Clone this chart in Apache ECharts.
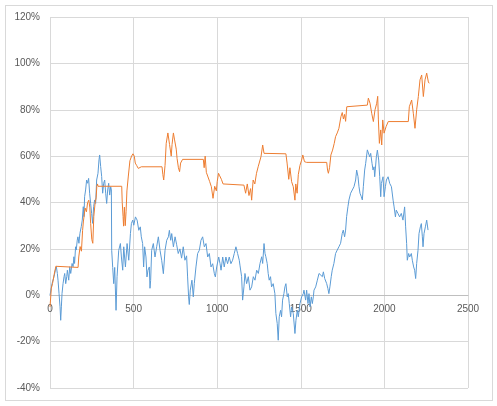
<!DOCTYPE html>
<html>
<head>
<meta charset="utf-8">
<script src="https://cdn.jsdelivr.net/npm/echarts@6/dist/echarts.min.js"></script>
<style>
  html, body { margin: 0; padding: 0; background: #fff; }
  #frame { position: absolute; left: 5px; top: 5px; width: 486px; height: 394px; border: 1px solid #d9d9d9; }
  #chart { position: absolute; left: 0; top: 0; width: 497px; height: 406px; }
</style>
</head>
<body>
<div id="frame"></div>
<div id="chart"></div>
<script>
// x axis ticks and y axis ticks (percent)
const xTicks = [0, 500, 1000, 1500, 2000, 2500];
const yTicks = [-40, -20, 0, 20, 40, 60, 80, 100, 120];

// blue series, [step, percent]
const blueData = [
  [0,0],[4,0],[12,5],[24,8],[32,10.8],[38,12.3],[44,9.4],[48,6.5],[54,0.8],[60,-5],[64,-10.8],[68,-5],[72,0.8],[78,5],[84,8],[88,9.4],[94,5],[100,8],[104,10.8],[112,6.5],[118,12.3],[124,9.4],[132,13.7],[138,12.3],[143,16.6],[147,13.7],[153,20.9],[157,19.5],[163,23.8],[167,25.2],[173,22.4],[179,26.7],[187,29.6],[193,32.4],[199,38.2],[203,33.9],[207,42.5],[213,45.4],[219,49.7],[225,48.3],[231,50.4],[237,44],[243,39.6],[249,35.3],[255,31],[261,38.2],[267,41.1],[273,39.6],[279,49.7],[287,52.6],[293,58.4],[297,60.5],[303,55.5],[309,51.2],[315,44],[321,48.3],[327,49.7],[333,44],[339,39.6],[345,45.4],[351,48.3],[357,43.2],[363,46.8],[367,45.4],
  [369,19.4],[375,12],[381,5],[387,12],[395,-6.5],[401,8],[411,19.4],[421,22.3],[427,16.5],[435,10.8],[441,20.9],[451,12.2],[461,22.3],[471,15.1],[481,26.6],[487,31],[495,32.4],[501,30.2],[511,33.8],[521,32.4],[531,28],[540,29.5],[546,25.2],[554,22.3],[560,12.2],[566,20.9],[574,16.5],[580,7.9],[586,10.8],[594,12.2],[598,3],[602,6.4],[608,19.4],[618,22.3],[628,16.5],[638,20.9],[648,25.2],[658,19.4],[668,15.1],[678,9.3],[688,19.4],[698,23.7],[708,25.2],[714,28],[722,23.7],[728,26.6],[738,20.9],[748,25.2],[757,22],[767,18],[777,20],[787,16],[797,20.9],[807,15.1],[817,17],[823,7.9],[829,-0.7],[833,-4],[839,2.2],[849,6.5],[857,-0.7],[863,5],[873,12.2],[883,18],[893,19.4],[903,23.7],[913,25.2],[923,20.9],[933,22.3],[943,16.5],[953,18],[963,12.2],[973,13.6],[983,9.3],[989,7.9],[997,12.2],
  [1009,16.5],[1017,13.6],[1023,10.8],[1033,16.5],[1042,12.2],[1052,16.5],[1062,13.6],[1072,16.5],[1082,13.6],[1092,15.1],[1102,18],[1112,20.9],[1122,18],[1132,15.1],[1136,13],[1146,8],[1152,-2.1],[1160,3.6],[1166,9.4],[1176,5],[1186,8],[1196,2.2],[1206,3.6],[1216,8],[1226,6.5],[1236,10.8],[1246,9.4],[1256,13.7],[1266,16.6],[1272,13.7],[1280,22.3],[1286,18],[1291,16.6],[1299,13.7],[1305,9.4],[1311,6.5],[1319,8],[1325,3.6],[1335,5],[1345,0.7],[1351,-7.9],[1359,-12.2],[1365,-19.4],[1371,-9.3],[1379,-6.5],[1385,-9.3],[1391,-2.1],[1399,0.7],[1405,3.6],[1411,5],[1419,-0.7],[1425,0.7],[1431,-3.6],[1439,-9.3],[1445,-5],[1455,-7.9],[1465,-16.5],[1471,-10.8],[1479,-6.5],[1485,-9.3],[1495,-3.6],
  [1505,-0.7],[1515,0.7],[1519,2.2],[1529,-2.1],[1535,2.2],[1543,-3.6],[1549,0.7],[1555,-5],[1563,-0.7],[1569,-3.6],[1575,-0.7],[1579,2.2],[1589,3.6],[1599,6.5],[1609,9.4],[1619,10.1],[1629,8],[1635,10.1],[1643,7.2],[1649,8],[1655,5],[1662,2.9],[1668,0.7],[1674,3.6],[1682,8],[1688,10.8],[1698,13.7],[1708,18],[1718,19.5],[1728,20.9],[1738,22.4],[1748,26.7],[1754,28.1],[1762,25.2],[1768,28.1],[1774,33.9],[1782,38.2],[1788,41.1],[1798,44],[1808,45.4],[1818,46.8],[1828,49.7],[1834,54],[1842,51.2],[1848,46.8],[1854,44],[1862,42.5],[1868,41.1],[1874,46.8],[1882,54],[1888,56.9],[1898,62.7],[1902,62.6],[1912,59.7],[1918,61.2],[1926,56.9],[1932,54],[1938,55.4],[1942,51.1],[1952,59.7],[1958,62.6],[1966,58.3],[1972,51.1],[1978,42.5],[1982,48.2],[1992,51.1],[1998,42.5],
  [2006,46.8],[2012,49.7],[2022,51.1],[2032,48.2],[2042,46.8],[2052,41],[2058,38.1],[2066,33.8],[2071,36.7],[2081,35.3],[2091,33.8],[2101,35.3],[2111,32.4],[2121,38.1],[2127,29.5],[2133,22.3],[2137,15.1],[2145,18],[2151,16.5],[2161,18],[2167,15.1],[2175,12.2],[2181,10.8],[2187,7.2],[2193,13.7],[2201,19.4],[2207,26.6],[2215,29.5],[2221,30.9],[2227,25.2],[2231,20.9],[2237,26.6],[2245,29.5],[2253,32.4],[2261,28.1]
];

// orange series, [step, percent] (flat parts are where it holds its value)
const orangeData = [
  [0,-5],[8,3],[15,5],[25,9],[35,12.5],[42,12],[168,12],[172,16.5],[180,21],[188,19],[195,28],[200,32],[210,37.6],[218,36],[225,40],[232,41],[238,38],[243,31],[250,24],[256,22.4],[262,34],[270,40],[276,42],[280,47],[284,48],[287,47],[429,47],
  [432,40],[437,34],[440,29.8],[445,38],[450,30],[455,36],[460,45],[468,51],[478,58],[488,60],[496,61],[504,60],[510,57],[518,56],[528,54.7],[546,55.4],[670,55.4],[675,52],[680,49.7],[688,56],[695,65.5],[705,70],[715,65],[725,60],[730,65],[738,70],[745,67],[755,63],[760,59],[768,55],[775,53.3],[781,57],[793,58.6],[917,58.6],
  [922,55],[928,60],[935,53],[945,51],[955,49],[965,46.8],[975,41.8],[985,47],[995,45],[1000,49],[1008,52.6],[1015,51.5],[1025,50],[1035,48],[1043,47.5],[1160,47.5],[1170,44],[1180,48],[1190,43],[1200,46],[1206,41],[1215,49.7],[1225,48],[1235,52.6],[1245,55.4],[1255,55],[1262,59.8],[1272,64.8],[1280,61.2],[1286,61],[1411,61],
  [1418,57],[1428,50],[1435,55],[1445,49],[1455,46.8],[1465,41],[1470,48],[1478,44],[1485,52],[1495,56],[1505,58.3],[1512,60.5],[1522,57.6],[1535,57.3],[1655,57.3],[1660,54],[1665,52.6],[1672,55],[1680,60.5],[1690,62.6],[1700,65.5],[1708,68.4],[1718,70],[1728,72],[1735,72.5],[1740,77],[1748,78.8],[1755,76],[1762,78],[1768,75],[1775,81.3],[1778,82],[1898,82],
  [1904,85],[1914,82.8],[1924,78.5],[1934,74.9],[1944,80],[1954,82.8],[1960,85.8],[1964,75.6],[1970,65.5],[1978,71.3],[1984,64.8],[1990,75.6],[1998,69.9],[2010,72.7],[2023,74.9],[2143,74.9],[2149,81.3],[2163,84.2],[2173,78.5],[2183,72],[2193,80],[2203,85.7],[2213,92.9],[2223,95],[2233,85.7],[2243,92.9],[2253,95.8],[2263,92],[2268,91.4]
];

const chart = echarts.init(document.getElementById('chart'));
const labelStyle = { color: '#595959', fontSize: 10, fontFamily: 'Liberation Sans, Arial, sans-serif' };

// plot area: 0% sits at 295px, so a second grid ending there carries the x labels
const plotTop = 17, plotBottom = 388, zeroY = 295;

chart.setOption({
  animation: false,
  grid: [
    { left: 50, right: 29, top: plotTop, height: plotBottom - plotTop, containLabel: false },
    { left: 50, right: 29, top: plotTop, height: zeroY - plotTop, containLabel: false }
  ],
  xAxis: [
    {
      type: 'value',
      gridIndex: 0,
      min: xTicks[0],
      max: xTicks[xTicks.length - 1],
      interval: 500,
      axisLine: { show: false },
      axisTick: { show: false },
      axisLabel: { show: false },
      splitLine: { show: true, lineStyle: { color: '#d9d9d9', width: 1 } }
    },
    {
      type: 'value',
      gridIndex: 1,
      position: 'bottom',
      min: xTicks[0],
      max: xTicks[xTicks.length - 1],
      interval: 500,
      axisLine: { show: true, onZero: false, lineStyle: { color: '#bfbfbf', width: 1 } },
      axisTick: { show: false },
      axisLabel: Object.assign({ margin: 9, formatter: v => String(v) }, labelStyle),
      splitLine: { show: false }
    }
  ],
  yAxis: [
    {
      type: 'value',
      gridIndex: 0,
      min: yTicks[0],
      max: yTicks[yTicks.length - 1],
      interval: 20,
      axisLine: { show: false },
      axisTick: { show: false },
      axisLabel: Object.assign({ margin: 10, formatter: '{value}%' }, labelStyle),
      splitLine: { show: true, lineStyle: { color: '#d9d9d9', width: 1 } }
    },
    {
      type: 'value',
      gridIndex: 1,
      min: 0,
      max: 1,
      show: false
    }
  ],
  series: [
    {
      type: 'line',
      xAxisIndex: 0,
      yAxisIndex: 0,
      data: blueData,
      showSymbol: false,
      symbol: 'none',
      lineStyle: { color: '#5b9bd5', width: 1 },
      z: 3
    },
    {
      type: 'line',
      xAxisIndex: 0,
      yAxisIndex: 0,
      data: orangeData,
      showSymbol: false,
      symbol: 'none',
      lineStyle: { color: '#ed7d31', width: 1 },
      z: 4
    }
  ]
});
</script>
</body>
</html>
